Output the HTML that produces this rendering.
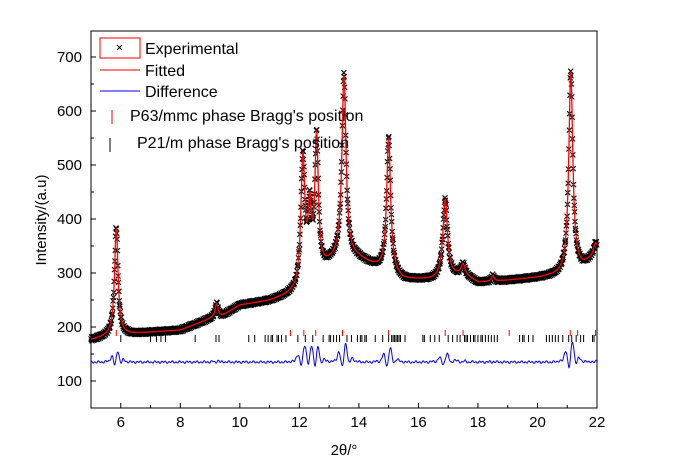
<!DOCTYPE html><html><head><style>body{margin:0;background:#fff}svg{display:block;font-family:"Liberation Sans",sans-serif}</style></head><body>
<svg id="s" width="679" height="475" xmlns="http://www.w3.org/2000/svg"></svg>
<script>
const S=document.getElementById('s');let h='';
const X=v=>91+(v-5)*506/17, Y=v=>435-0.54*v;
const bgp=[[5,176],[5.5,182],[6.2,186],[7,190],[8,194],[9,215],[9.4,220],[10,240],[11,248],[11.9,262],[12.5,290],[13,315],[13.4,330],[14,325],[14.5,312],[15.5,287],[16.5,287],[17.5,296],[18,282],[19,286],[20,291],[20.8,296],[21.5,310],[22,335]];
function bg(x){for(let i=0;i<bgp.length-1;i++){const a=bgp[i],b=bgp[i+1];if(x<=b[0])return a[1]+(b[1]-a[1])*(x-a[0])/(b[0]-a[0]);}return 335;}
const pk=[[5.85,200,.07],[9.22,25,.06],[12.12,235,.08],[12.35,120,.07],[12.58,250,.07],[13.5,335,.08],[15.0,250,.08],[16.9,145,.09],[17.5,18,.08],[18.5,10,.05],[21.12,370,.08],[21.95,20,.07]];
function f(x){let y=bg(x);for(const p of pk){const d=(x-p[0])/p[2];y+=p[1]/(1+d*d);}return y;}
h+='<rect x="91" y="31" width="506" height="377" fill="none" stroke="#000" stroke-width="1"/>';
for(let v=6;v<=22;v+=2){h+=`<line x1="${X(v)}" y1="408" x2="${X(v)}" y2="403" stroke="#000"/><text x="${X(v)}" y="427" font-size="15" text-anchor="middle">${v}</text>`;h+=`<line x1="${X(v-1)}" y1="408" x2="${X(v-1)}" y2="405" stroke="#000"/>`;}
for(let v=100;v<=700;v+=50){const y=Y(v);h+=`<line x1="91" y1="${y}" x2="${v%100?94:96}" y2="${y}" stroke="#000"/>`;if(v%100==0)h+=`<text x="82" y="${y+5}" font-size="15" text-anchor="end">${v}</text>`;}
h+=`<text x="344" y="455" font-size="15" text-anchor="middle">2θ/°</text>`;
h+=`<text transform="translate(46,220) rotate(-90)" font-size="15" text-anchor="middle">Intensity/(a.u)</text>`;
let m='';for(let x=5;x<=22;x+=0.012){const n=Math.sin(x*137)*4;const px=X(x),py=Y(f(x)+n);m+=`M${(px-2.5).toFixed(1)} ${(py-2.5).toFixed(1)}l5 5m0 -5l-5 5`;}
h+=`<path d="${m}" stroke="#000" stroke-width="1.1" fill="none"/>`;
let l='';for(let x=5;x<=22;x+=0.01)l+=(l?'L':'M')+X(x).toFixed(1)+' '+Y(f(x)).toFixed(1);
h+=`<path d="${l}" stroke="#f00" stroke-width="1.3" fill="none"/>`;
let d='';for(let x=5;x<=22;x+=0.01){let y=135+Math.sin(x*53)*1.5+Math.sin(x*23)*1;for(const p of pk){const t=(x-p[0])/(p[2]*2.5);y+=p[1]*0.07*Math.exp(-t*t)*Math.sin(t*5)+p[1]*0.04*Math.exp(-t*t*0.5);}d+=(d?'L':'M')+X(x).toFixed(1)+' '+Y(y).toFixed(1);}
h+=`<path d="${d}" stroke="#00f" stroke-width="1" fill="none"/>`;
const red=[5.85,11.7,12.15,12.55,13.45,15,16.9,17.5,19.05,21.1,21.35,21.95];
red.forEach(v=>h+=`<line x1="${X(v)}" y1="330" x2="${X(v)}" y2="336" stroke="#f00"/>`);
const blk=[6,7,7.2,7.35,7.5,8.5,9.2,9.3,10.3,10.5,10.85,10.95,11.05,11.1,11.25,11.3,11.4,11.55,11.95,12.2,12.45,12.8,13,13.05,13.15,13.25,13.35,13.6,13.75,13.95,14.05,14.1,14.2,14.25,14.55,14.8,15,15.1,15.15,15.2,15.25,15.3,15.35,15.4,15.55,16.15,16.2,16.4,16.55,16.7,17,17.15,17.3,17.4,17.55,17.6,17.65,17.75,17.85,17.9,18,18.1,18.15,18.25,18.35,18.45,18.55,18.65,19.4,19.5,19.55,19.7,19.85,20.3,20.4,20.5,20.6,20.7,20.85,21.05,21.15,21.3,21.45,21.55,21.85,21.9,22];
blk.forEach(v=>h+=`<line x1="${X(v)}" y1="335" x2="${X(v)}" y2="342" stroke="#000"/>`);
h+=`<rect x="100" y="38" width="40" height="20" fill="none" stroke="#f00"/><path d="M117 45l5 5m0 -5l-5 5" stroke="#000"/>`;
h+=`<text x="145" y="54" font-size="16">Experimental</text>`;
h+=`<line x1="100" y1="70" x2="140" y2="70" stroke="#f00"/><text x="145" y="76" font-size="16">Fitted</text>`;
h+=`<line x1="100" y1="91" x2="140" y2="91" stroke="#00f"/><text x="145" y="97" font-size="16">Difference</text>`;
h+=`<line x1="112" y1="110" x2="112" y2="124" stroke="#f00"/><text x="130" y="121" font-size="16">P63/mmc phase Bragg's position</text>`;
h+=`<line x1="110" y1="138" x2="110" y2="152" stroke="#000"/><text x="137" y="148" font-size="16">P21/m phase Bragg's position</text>`;
S.innerHTML=h;
</script></body></html>
